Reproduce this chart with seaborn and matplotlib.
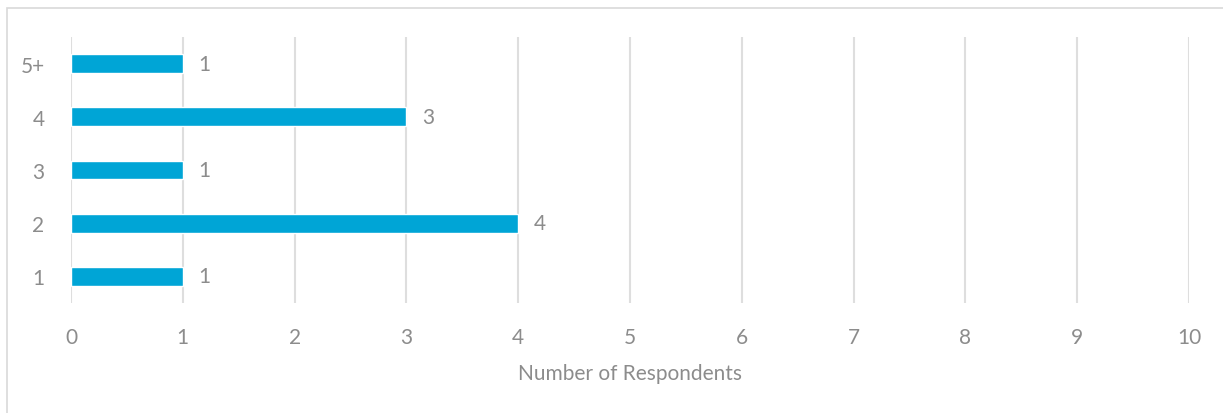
import matplotlib
matplotlib.use("Agg")
import matplotlib.pyplot as plt
import seaborn as sns
import pandas as pd
from matplotlib.patches import Rectangle

# --- data ---
categories = ["5+", "4", "3", "2", "1"]
respondents = [1, 3, 1, 4, 1]
x_ticks = list(range(0, 11))

bar_color = "#00A5D6"
text_color = "#8C8C8C"
grid_color = "#DEDEDE"

sns.set_theme(style="white")
plt.rcParams["font.family"] = ["Lato", "DejaVu Sans"]

df = pd.DataFrame({"category": categories, "count": respondents})

fig = plt.figure(figsize=(12.23, 4.14), dpi=100)
ax = fig.add_axes([71 / 1223, 1 - 304 / 414, (1189 - 71) / 1223, (304 - 38) / 414])

sns.barplot(data=df, x="count", y="category", order=categories,
            color=bar_color, width=0.35, saturation=1, orient="h", ax=ax)

for c in ax.containers:
    ax.bar_label(c, padding=11, fontsize=15, color=text_color)

ax.set_xlim(0, 10)
ax.set_ylim(4.5, -0.5)
ax.set_xticks(x_ticks)
ax.xaxis.grid(True, color=grid_color, linewidth=1.5)
ax.set_axisbelow(True)
for s in ax.spines.values():
    s.set_visible(False)

ax.tick_params(axis="x", length=0, pad=17, labelsize=15, labelcolor=text_color)
ax.tick_params(axis="y", length=0, pad=19, labelsize=15, labelcolor=text_color)
ax.set_ylabel("")
ax.set_xlabel("Number of Respondents", fontsize=15, color=text_color, labelpad=12)

# chart frame
fig.patches.append(Rectangle((7 / 1223, -0.05), 1.1, 1 - 9 / 414 + 0.05,
                             transform=fig.transFigure, fill=False,
                             edgecolor="#D9D9D9", linewidth=1.2))

fig.savefig("out.png", dpi=100)
